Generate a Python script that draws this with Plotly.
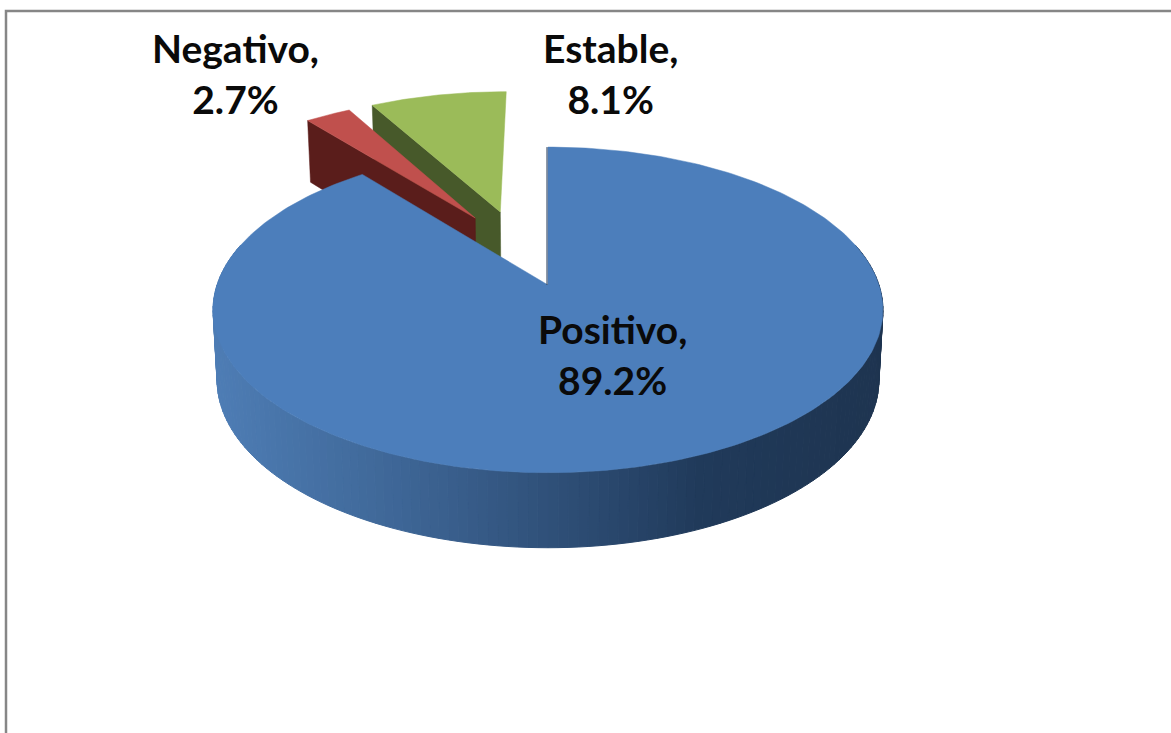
import math
import plotly.graph_objects as go

categories = ["Positivo", "Negativo", "Estable"]
values = [89.2, 2.7, 8.1]

top_colors = ["#4C7EBB", "#C0504D", "#9BBB59"]
side_colors = [None, "#5A1D1B", "#47592A"]
# how far each slice is pulled out of the pie, in disc units
explode_u = [0.0, -0.235, -0.155]
explode_v = [0.0, -0.45, -0.494]
label_x = [612, 235, 610]
label_y = [354, 73, 73]

# front wall of the big slice, shaded from left to right
wall_stops = [(214, (78, 125, 181)), (400, (62, 102, 150)), (550, (47, 80, 121)),
              (700, (32, 58, 90)), (884, (30, 52, 80))]

# perspective of the tilted disc, in pixels
CX, CY = 548, 285
A, B, P = 331, 159, 0.153


def project(u, v):
    s = 1 / (1 - P * v)
    return CX + A * u * s, CY + B * v * s


def drop(u, v):
    # same point on the underside of the pie
    x, y = project(u, v)
    return CX + (x - CX) * 0.988, y + 69 + 6 * v


def arc(start, end, n=80):
    pts = []
    for i in range(n + 1):
        a = math.radians(start + (end - start) * i / n)
        pts.append((math.sin(a), -math.cos(a)))
    return pts


def wall_color(x):
    for (x0, c0), (x1, c1) in zip(wall_stops, wall_stops[1:]):
        if x <= x1:
            t = max(0, (x - x0) / (x1 - x0))
            return "rgb(%d,%d,%d)" % tuple(round(a + (b - a) * t) for a, b in zip(c0, c1))
    return "rgb(%d,%d,%d)" % wall_stops[-1][1]


def poly(points, color, line=0.5):
    return go.Scatter(x=[p[0] for p in points] + [points[0][0]],
                      y=[p[1] for p in points] + [points[0][1]],
                      mode="lines", fill="toself", fillcolor=color,
                      line=dict(color=color, width=line),
                      hoverinfo="skip", showlegend=False)


# start and end angle of each slice, clockwise from the top
angles = []
start = 0
for val in values:
    angles.append((start, start + val * 3.6))
    start += val * 3.6

fig = go.Figure()

# small slices go first, the big one covers them
for i in [2, 1]:
    du, dv = explode_u[i], explode_v[i]
    a0, a1 = angles[i]
    edge = [(u + du, v + dv) for u, v in arc(a0, a1)]
    corner = edge[0]
    apex = (du, dv)
    fig.add_trace(poly([project(*corner), project(*apex), drop(*apex), drop(*corner)], side_colors[i]))
    fig.add_trace(poly([project(*apex)] + [project(*p) for p in edge], top_colors[i]))

# wall of the big slice, one narrow strip per step
rim = arc(75, 285, 140)
for p, q in zip(rim, rim[1:]):
    quad = [project(*p), project(*q), drop(*q), drop(*p)]
    fig.add_trace(poly(quad, wall_color(sum(c[0] for c in quad) / 4), 1))

a0, a1 = angles[0]
edge = arc(a0, a1, 300)
fig.add_trace(poly([project(0, 0)] + [project(*p) for p in edge], top_colors[0]))

# dark cut edge of the big slice
cut = [project(*edge[0]), project(0, 0)]
fig.add_trace(go.Scatter(x=[c[0] - 1 for c in cut], y=[c[1] for c in cut], mode="lines",
                         line=dict(color="#1F3552", width=1), hoverinfo="skip", showlegend=False))

# chart frame, cut off by the picture on the right and at the bottom
fig.add_trace(go.Scatter(x=[6, 6, 1171], y=[733, 11, 11], mode="lines",
                         line=dict(color="#868686", width=2.5), hoverinfo="skip", showlegend=False))

for cat, val, lx, ly in zip(categories, values, label_x, label_y):
    fig.add_annotation(x=lx, y=ly, text="<b>%s,<br>%.1f%%</b>" % (cat, val), showarrow=False,
                       xanchor="center", yanchor="middle", align="center",
                       font=dict(family="Lato", size=39, color="#0A0A0A"))

fig.update_xaxes(range=[0, 1171], visible=False)
fig.update_yaxes(range=[733, 0], visible=False)
fig.update_layout(width=1171, height=733, margin=dict(l=0, r=0, t=0, b=0),
                  paper_bgcolor="white", plot_bgcolor="white", showlegend=False)

fig.write_html("out.html", config={"displayModeBar": False},
               post_script="document.body.style.margin = '0';")
